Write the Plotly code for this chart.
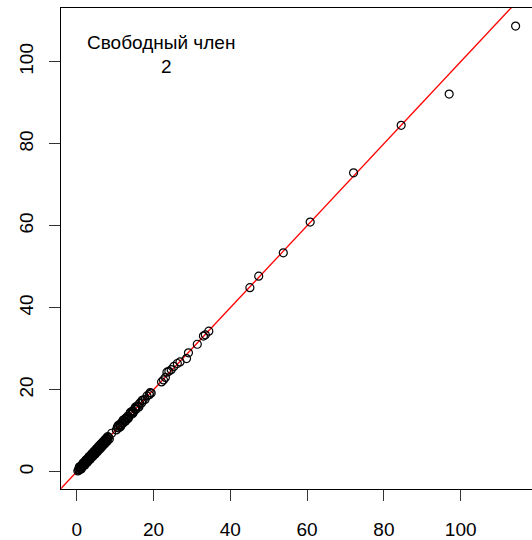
import plotly.graph_objects as go

# Observed vs fitted values of the intercept model
x_vals = [
    0.3, 0.5, 0.6, 0.8, 0.9, 1.0, 1.1, 1.3, 1.4, 1.5, 1.7, 1.8, 1.9, 2.0,
    2.2, 2.3, 2.5, 2.6, 2.7, 2.9, 3.0, 3.1, 3.3, 3.4, 3.6, 3.7, 3.8, 4.0,
    4.1, 4.3, 4.4, 4.6, 4.7, 4.9, 5.0, 5.2, 5.3, 5.5, 5.6, 5.8, 5.9, 6.1,
    6.3, 6.4, 6.6, 6.8, 6.9, 7.1, 7.3, 7.5, 7.6, 7.8, 8.0, 8.3,
    0.7, 1.2, 1.6, 2.1, 2.4, 2.8, 3.2, 3.5, 3.9, 4.2, 4.5, 4.8, 5.1, 5.4,
    5.7, 6.0, 6.2, 6.5, 6.7, 7.0, 7.2, 7.4, 7.7, 7.9, 8.1, 8.5,
    9.1, 10.3, 10.6, 10.9, 11.2, 11.5, 11.7, 12.0, 12.3, 12.5, 12.8, 13.1,
    13.3, 13.6, 13.9, 14.2, 14.5, 14.8, 15.1, 15.4, 15.7, 16.0, 16.4, 16.9,
    17.3, 17.8, 18.3, 18.9, 19.1, 19.4,
    10.8, 11.4, 12.1, 12.7, 13.4, 14.0, 14.6, 15.3, 16.2, 17.0,
    22.1, 22.6, 23.1, 23.5, 24.0, 24.6, 25.3, 26.2, 26.9, 28.6, 29.1,
    31.4, 33.0, 33.5, 34.4,
    45.1, 47.4, 53.8, 60.8, 72.1, 84.5, 97.0, 114.3,
]
y_vals = [
    0.2, 0.6, 0.4, 0.9, 0.7, 1.2, 0.9, 1.5, 1.2, 1.7, 1.5, 2.0, 1.7, 2.3,
    2.0, 2.6, 2.3, 2.9, 2.5, 3.2, 2.8, 3.4, 3.1, 3.7, 3.4, 4.0, 3.6, 4.3,
    3.9, 4.6, 4.2, 4.9, 4.5, 5.2, 4.8, 5.5, 5.1, 5.8, 5.4, 6.1, 5.7, 6.4,
    6.1, 6.7, 6.4, 7.1, 6.7, 7.4, 7.1, 7.8, 7.4, 8.1, 7.9, 8.4,
    1.2, 0.7, 2.1, 1.6, 2.9, 2.3, 3.7, 3.0, 4.4, 3.7, 5.0, 4.3, 5.6, 4.9,
    6.2, 5.5, 6.7, 6.0, 7.2, 6.5, 7.7, 6.9, 8.2, 7.4, 8.6, 8.0,
    9.4, 10.2, 10.9, 10.7, 11.5, 11.3, 12.0, 11.8, 12.6, 12.3, 13.1, 12.9,
    13.6, 13.4, 14.2, 14.0, 14.8, 14.6, 15.4, 15.2, 16.0, 15.8, 16.7, 16.8,
    17.5, 17.6, 18.5, 18.8, 19.3, 19.2,
    11.3, 11.0, 12.6, 12.3, 13.0, 14.5, 14.2, 15.8, 15.8, 17.4,
    21.9, 22.4, 23.0, 24.3, 24.5, 24.9, 25.7, 26.4, 26.8, 27.6, 29.0,
    31.1, 33.1, 33.4, 34.3,
    44.9, 47.7, 53.4, 60.9, 72.9, 84.5, 92.1, 108.7,
]

tick_vals = [0, 20, 40, 60, 80, 100]
tick_text = ["0", "20", "40", "60", "80", "100"]

title_line = "Свободный член"
subtitle_line = "2"

FONT = "Liberation Sans, Arial, sans-serif"

fig = go.Figure()

# Identity line y = x
fig.add_trace(go.Scatter(
    x=[-10, 130], y=[-10, 130],
    mode="lines",
    line=dict(color="#ff0000", width=1.3),
    hoverinfo="skip",
    showlegend=False,
))

# Points
fig.add_trace(go.Scatter(
    x=x_vals, y=y_vals,
    mode="markers",
    marker=dict(symbol="circle-open", size=8, color="black",
                line=dict(color="black", width=1.2)),
    showlegend=False,
))

fig.add_annotation(
    x=21.95, y=104.6, xref="x", yref="y",
    text=title_line, showarrow=False,
    xanchor="center", yanchor="middle",
    font=dict(family=FONT, size=19, color="black"),
)
fig.add_annotation(
    x=23.4, y=98.8, xref="x", yref="y",
    text=subtitle_line, showarrow=False,
    xanchor="center", yanchor="middle",
    font=dict(family=FONT, size=19, color="black"),
)

axis_common = dict(
    showgrid=False, zeroline=False,
    showline=True, linecolor="black", linewidth=1,
    ticks="outside", ticklen=11, tickwidth=1, tickcolor="#333333",
    tickvals=tick_vals, ticktext=tick_text,
    tickfont=dict(family=FONT, size=19, color="black"),
)

fig.update_layout(
    width=532, height=540,
    margin=dict(l=61, r=0, t=8, b=51),
    paper_bgcolor="white", plot_bgcolor="white",
    xaxis=dict(range=[-4.09, 118.57], mirror=True,
               ticklabelstandoff=12, **axis_common),
    yaxis=dict(range=[-4.2, 113.1], tickangle=-90,
               ticklabelstandoff=8, **axis_common),
)

fig.write_html("out.html")
